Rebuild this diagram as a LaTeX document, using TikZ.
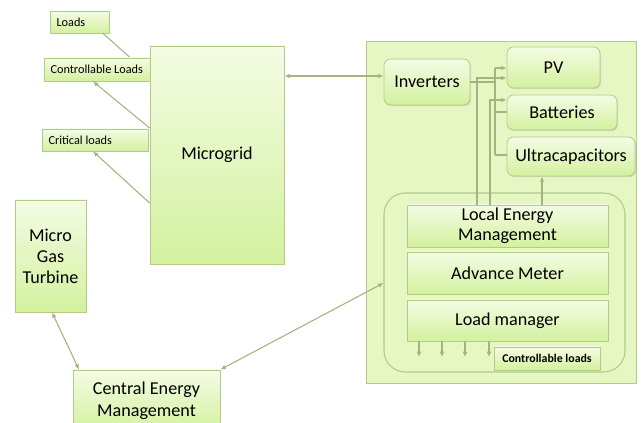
\documentclass[tikz,border=0pt]{standalone}
\usepackage{fontspec}
\setmainfont{Carlito}
\usetikzlibrary{fit,arrows.meta,shadows}
\definecolor{bord}{HTML}{B3CB86}
\definecolor{ftop}{HTML}{F4FCE4}
\definecolor{fbot}{HTML}{D3F19E}
\definecolor{bigfill}{HTML}{E6F7C4}
\definecolor{conncol}{HTML}{A3B47F}
\begin{document}
\begin{tikzpicture}[x=0.75pt,y=-0.75pt,
  box/.style={draw=bord, line width=0.6pt, top color=ftop, bottom color=fbot,
    inner sep=0pt, align=center,
    drop shadow={shadow xshift=0.9pt,shadow yshift=-0.9pt,opacity=0.22}},
  smallbox/.style={box},
  rbox/.style={box, rounded corners=5pt},
  big/.style={font=\fontsize{13.6}{16}\selectfont, align=center, inner sep=0pt},
  lbl/.style={anchor=west, xshift=5pt, inner sep=0pt, font=\fontsize{9.2}{10}\selectfont},
  conn/.style={draw=conncol, line width=0.8pt},
  arr/.style={conn, -{Latex[length=4pt,width=3.5pt]}},
  darr/.style={conn, {Latex[length=4pt,width=3.5pt]}-{Latex[length=4pt,width=3.5pt]}}]
\clip (0,0) rectangle (643,423);
\useasboundingbox (0,0) rectangle (643,423);
\fill[white] (0,0) rectangle (643,423);

% background containers
\node[fit={(366,41)(636,383)}, draw=bord, line width=0.6pt, fill=bigfill, inner sep=0pt] (big) {};
\node[fit={(384,193)(625,372)}, draw=bord, line width=0.8pt, fill=bigfill, rounded corners=16pt, inner sep=0pt] (inner) {};

% boxes
\node[smallbox, fit={(50,11)(109,33)}, label={[lbl]west:Loads}] (loads) {};
\node[box, fit={(150,46)(284,264)}] (micro) {};
\node[big] at (micro.center) {Microgrid};
\node[box, fit={(15,200)(86,312)}] (mgt) {};
\node[big, font=\fontsize{13.6}{15.8}\selectfont] at (mgt.center) {Micro\\Gas\\Turbine};
\node[box, fit={(73,370)(220,432)}] (cem) {};
\node[big, font=\fontsize{13.6}{16.5}\selectfont] at (cem.center) {Central Energy\\Management};

\node[rbox, fit={(384,59)(470,105)}] (inv) {};
\node[big] at (inv.center) {Inverters};
\node[rbox, fit={(507,47)(600,88)}] (pv) {};
\node[big] at (pv.center) {PV};
\node[rbox, fit={(507,95)(617,130)}] (bat) {};
\node[big] at (bat.center) {Batteries};
\node[rbox, fit={(507,137)(635,176)}] (ult) {};
\node[big] at (ult.center) {Ultracapacitors};

\node[box, fit={(407,205)(608,247)}] (lem) {};
\node[big, font=\fontsize{13.6}{15}\selectfont] at (lem.center) {Local Energy\\Management};
\node[box, fit={(407,252)(608,294)}] (am) {};
\node[big] at (am.center) {Advance Meter};
\node[box, fit={(407,300)(608,341)}] (lm) {};
\node[big] at (lm.center) {Load manager};

% connectors (left side)
\draw[conn] (loads.south -| 103,0) -- (micro.west |- 0,75);
\node[smallbox, fit={(44,58)(150,81)}, label={[lbl]west:Controllable Loads}] (cload) {};
\node[smallbox, fit={(42,129)(148,151)}, label={[lbl]west:Critical loads}] (crit) {};
\draw[arr] (micro.west |- 0,128) -- (cload.south -| 93,0);
\draw[arr] (micro.west |- 0,203) -- (crit.south -| 93,0);
\draw[darr] (micro.east |- 0,76) -- (inv.west |- 0,76);
\draw[darr] (mgt.south -| 52,0) -- (cem.north -| 79,0);
\draw[darr] (cem.north east) -- (inner.west |- 0,283);

% connectors (right side)
\coordinate (busT) at (495,68);
\coordinate (busB) at (495,155);
\coordinate (busI) at (495,82);
\coordinate (k1) at (477,78);
\coordinate (k2) at (490,100);
\draw[arr] (lem.north -| k1) -- (k1) -- (pv.west |- k1);
\draw[arr] (lem.north -| k2) -- (k2) -- (bat.west |- k2);
\draw[conn] (inv.east |- busI) -- (busI);
\draw[conn] (busT) -- (busB);
\draw[arr] (busT) -- (pv.west |- busT);
\draw[conn] (busB |- 0,112) -- (bat.west |- 0,112);
\draw[conn] (busB) -- (ult.west |- busB);
\draw[arr] (lem.north -| 542,0) -- (ult.south -| 542,0);
\foreach \x in {419,442,465,489}
  \draw[arr] (lm.south -| \x,0) -- (\x,357);

\node[smallbox, fit={(494,347)(600,370)}] (ctrl) {};
\node[font=\bfseries\fontsize{8.9}{10}\selectfont, inner sep=0pt] at (ctrl.center) {Controllable loads};
\end{tikzpicture}
\end{document}
